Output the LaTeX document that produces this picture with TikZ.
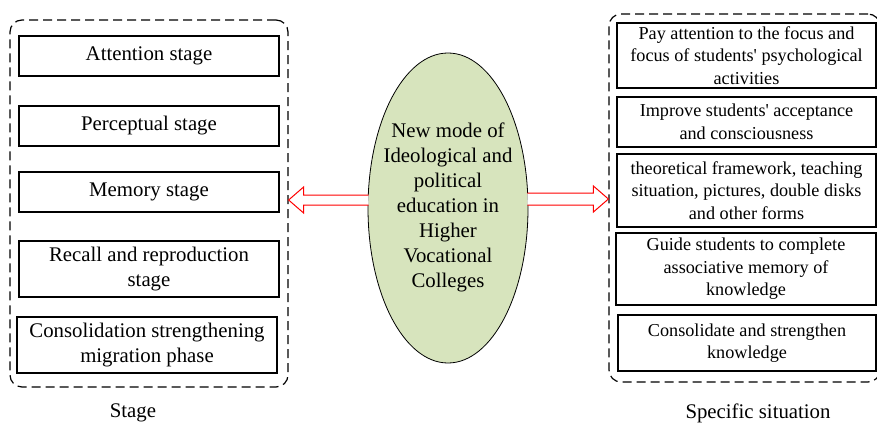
\documentclass[tikz,border=0pt]{standalone}
\usepackage{fontspec}
\setmainfont{Liberation Serif}
\usetikzlibrary{shapes.geometric,calc}
\definecolor{ellgreen}{HTML}{D7E4BD}
\tikzset{
  frame/.style={draw=black, line width=1.2pt, dash pattern=on 9pt off 5pt, rounded corners=12pt, inner sep=0pt},
  lbox/.style={draw=black, line width=1.3pt, fill=white, inner sep=0pt, align=center, minimum width=260pt, font=\fontsize{20.8}{25}\selectfont},
  rbox/.style={draw=black, line width=1.3pt, fill=white, inner sep=0pt, align=center, minimum width=259pt, font=\fontsize{18.2}{22.5}\selectfont},
  hub/.style={ellipse, draw=black, line width=0.8pt, fill=ellgreen, minimum width=160pt, minimum height=310pt, inner sep=0pt},
  hubtext/.style={inner sep=0pt, align=center, font=\fontsize{20.8}{25}\selectfont},
  caption/.style={font=\fontsize{20.8}{25}\selectfont, inner sep=0pt},
  hollowarrow/.style={draw=red, line width=1pt, fill=white, line join=miter}
}
\begin{document}
\begin{tikzpicture}[x=1pt,y=-1pt]
\useasboundingbox (0,0) rectangle (877,423);
\clip (0,0) rectangle (877,423);
% frames
\node[frame, minimum width=278pt, minimum height=367pt] (lframe) at (149,203.5) {};
\node[frame, minimum width=271pt, minimum height=368pt] (rframe) at (744.5,198) {};
% left boxes
\node[lbox, minimum height=40pt] (att) at (149,56) {Attention stage};
\node[lbox, minimum height=40pt] (per) at (149,126) {Perceptual stage};
\node[lbox, minimum height=40pt] (mem) at (149,192) {Memory stage};
\node[lbox, minimum height=56pt] (rec) at (149,269) {Recall and reproduction\\stage};
\node[lbox, minimum height=56pt] (con) at (147,345) {Consolidation strengthening\\migration phase};
% right boxes
\node[rbox, minimum height=65pt] (r1) at (746.5,55.5) {Pay attention to the focus and\\focus of students\textquotesingle{} psychological\\activities};
\node[rbox, minimum height=50pt] (r2) at (746.5,122) {Improve students\textquotesingle{} acceptance\\and consciousness};
\node[rbox, minimum height=73pt] (r3) at (746.5,190.5) {theoretical framework, teaching\\situation, pictures, double disks\\and other forms};
\node[rbox, minimum height=72pt, minimum width=260pt] (r4) at (746,269) {Guide students to complete\\associative memory of\\knowledge};
\node[rbox, minimum height=56pt, minimum width=258pt] (r5) at (747,343) {Consolidate and strengthen\\knowledge};
% centre ellipse
\node[hub] (ell) at (448,208) {};
\node[hubtext] (elltext) at (448,207) {New mode of\\Ideological and\\political\\education in\\Higher\\Vocational\\Colleges};
% hollow arrows
\coordinate (la) at ($(ell.west)+(1,-8)$);
\coordinate (lt) at (lframe.east |- la);
\coordinate (ra) at ($(ell.east)+(-1,-9)$);
\coordinate (rt) at (rframe.west |- ra);
\draw[hollowarrow] let \p1=(la), \p2=(lt) in
  (\x1,\y1+5pt) -- (\x2+15pt,\y1+5pt) -- (\x2+15pt,\y1+13pt) -- (\x2,\y1)
  -- (\x2+15pt,\y1-13pt) -- (\x2+15pt,\y1-5pt) -- (\x1,\y1-5pt);
\draw[hollowarrow] let \p1=(ra), \p2=(rt) in
  (\x1,\y1+6pt) -- (\x2-15pt,\y1+6pt) -- (\x2-15pt,\y1+13pt) -- (\x2,\y1)
  -- (\x2-15pt,\y1-13pt) -- (\x2-15pt,\y1-6pt) -- (\x1,\y1-6pt);
% captions
\node[caption] (lcap) at (133,413) {Stage};
\node[caption] (rcap) at (758,413) {Specific situation};
\end{tikzpicture}
\end{document}
